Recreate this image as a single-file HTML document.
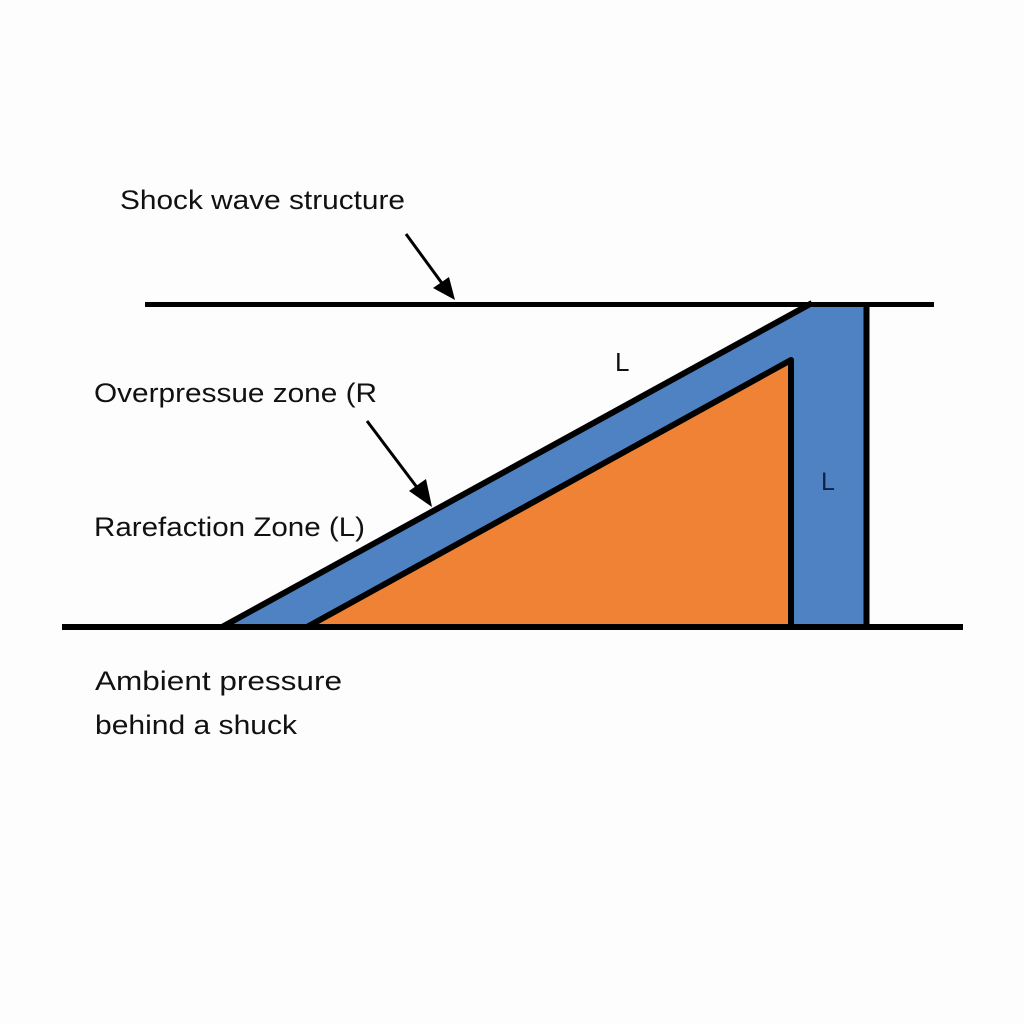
<!DOCTYPE html>
<html><head><meta charset="utf-8"><style>
html,body{margin:0;padding:0;background:#fff;}
svg{display:block;}
text{font-family:"Liberation Sans",sans-serif;fill:#111;}
</style></head><body>
<svg width="1024" height="1024" viewBox="0 0 1024 1024" xmlns="http://www.w3.org/2000/svg">
<rect width="1024" height="1024" fill="#fdfdfd"/>
<!-- blue band -->
<polygon points="222,627 810,304 866,304 866,627" fill="#4f82c2"/>
<line x1="222" y1="627" x2="812" y2="303" stroke="#000" stroke-width="6"/>
<line x1="866.5" y1="304" x2="866.5" y2="627" stroke="#000" stroke-width="6"/>
<!-- orange triangle -->
<polygon points="307,627 791,360 791,627" fill="#ef8234" stroke="#000" stroke-width="6" stroke-linejoin="round"/>
<!-- horizontal lines -->
<line x1="145" y1="304.5" x2="934" y2="304.5" stroke="#000" stroke-width="5"/>
<line x1="62" y1="627" x2="963" y2="627" stroke="#000" stroke-width="6"/>
<!-- arrows -->
<line x1="406" y1="234" x2="444" y2="286" stroke="#000" stroke-width="3"/>
<polygon points="455,300 433,288 449,277" fill="#000"/>
<line x1="367" y1="421" x2="422" y2="494" stroke="#000" stroke-width="3"/>
<polygon points="432,507 409,491 426,479" fill="#000"/>
<!-- labels -->
<text x="120" y="209" font-size="27" textLength="285" lengthAdjust="spacingAndGlyphs">Shock wave structure</text>
<text x="94" y="402" font-size="27" textLength="283" lengthAdjust="spacingAndGlyphs">Overpressue zone (R</text>
<text x="94" y="536" font-size="27" textLength="271" lengthAdjust="spacingAndGlyphs">Rarefaction Zone (L)</text>
<text x="95" y="690" font-size="27" textLength="247" lengthAdjust="spacingAndGlyphs">Ambient pressure</text>
<text x="95" y="734" font-size="27" textLength="202" lengthAdjust="spacingAndGlyphs">behind a shuck</text>
<text x="615" y="371" font-size="26">L</text>
<text x="821" y="490" font-size="25" style="fill:#142040">L</text>
</svg>
</body></html>
